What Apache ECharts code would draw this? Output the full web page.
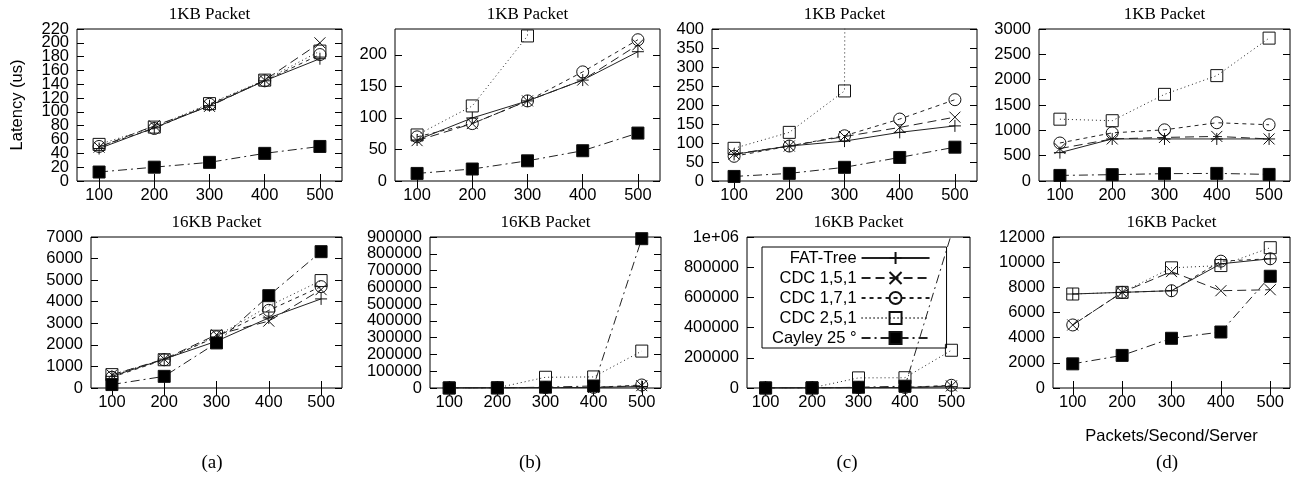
<!DOCTYPE html>
<html><head><meta charset="utf-8">
<script src="https://cdn.jsdelivr.net/npm/echarts@6/dist/echarts.min.js"></script>
<style>html,body{margin:0;padding:0;background:#fff}#c{width:1300px;height:479px}</style>
</head><body><div id="c"></div>
<script>
// ---------- data ----------
const xValues = [100, 200, 300, 400, 500];
const seriesNames = ['FAT-Tree', 'CDC 1,5,1', 'CDC 1,7,1', 'CDC 2,5,1', 'Cayley 25 °'];
const panelTitles = ['1KB Packet', '1KB Packet', '1KB Packet', '1KB Packet',
                     '16KB Packet', '16KB Packet', '16KB Packet', '16KB Packet'];
const panelLetters = ['(a)', '(b)', '(c)', '(d)'];
const yLabelName = 'Latency (us)';
const xLabelName = 'Packets/Second/Server';

// rows follow seriesNames order
const a1KB = [
  [47, 77, 109, 145, 177],
  [49, 80, 108, 146, 200],
  [50, 76, 111, 145, 183],
  [53, 78, 112, 146, 188],
  [13, 20, 27, 40, 50]
];
const b1KB = [
  [65, 100, 127, 160, 205],
  [64, 91, 127, 160, 216],
  [70, 91, 127, 173, 224],
  [73, 119, 230, 20000, 40000],
  [12, 19, 32, 48, 76]
];
const c1KB = [
  [70, 92, 105, 128, 145],
  [71, 92, 117, 141, 168],
  [65, 92, 119, 163, 214],
  [86, 128, 237, 30000, 60000],
  [12, 20, 36, 62, 89]
];
const d1KB = [
  [560, 830, 830, 830, 830],
  [640, 830, 860, 880, 830],
  [750, 950, 1010, 1150, 1110],
  [1220, 1190, 1710, 2080, 2820],
  [110, 125, 145, 150, 130]
];
const a16KB = [
  [540, 1340, 2170, 3250, 4130],
  [610, 1340, 2470, 3100, 4560],
  [500, 1310, 2370, 3600, 4700],
  [620, 1310, 2400, 3800, 4980],
  [160, 540, 2090, 4280, 6320]
];
const b16KB = [
  [560, 1300, 2200, 3300, 9000],
  [600, 1300, 2400, 3100, 14000],
  [500, 1300, 2400, 3600, 18000],
  [600, 1300, 64000, 66000, 220000],
  [150, 550, 5000, 12000, 890000]
];
const c16KB = [
  [560, 1300, 2200, 3300, 9000],
  [600, 1300, 2400, 3100, 14000],
  [500, 1300, 2400, 3600, 18000],
  [600, 1300, 67000, 68000, 250000],
  [150, 550, 5000, 12000, 1020000]
];
const d16KB = [
  [7470, 7600, 7730, 9870, 10270],
  [5010, 7600, 9250, 7730, 7810],
  [5010, 7600, 7730, 10080, 10270],
  [7470, 7600, 9550, 9730, 11150],
  [1920, 2590, 3950, 4450, 8880]
];
const panelData = [a1KB, b1KB, c1KB, d1KB, a16KB, b16KB, c16KB, d16KB];
const yMax  = [220, 241, 400, 3000, 7000, 900000, 1000000, 12000];
const yStep = [20, 50, 50, 500, 1000, 100000, 200000, 2000];
const yTickLabels = [
  [0, 20, 40, 60, 80, 100, 120, 140, 160, 180, 200, 220],
  [0, 50, 100, 150, 200],
  [0, 50, 100, 150, 200, 250, 300, 350, 400],
  [0, 500, 1000, 1500, 2000, 2500, 3000],
  [0, 1000, 2000, 3000, 4000, 5000, 6000, 7000],
  [0, 100000, 200000, 300000, 400000, 500000, 600000, 700000, 800000, 900000],
  [0, 200000, 400000, 600000, 800000, 1000000],
  [0, 2000, 4000, 6000, 8000, 10000, 12000]
];

// ---------- layout / style ----------
const gridRects = [
  [77, 29, 265, 152], [395, 29, 265, 152], [712, 29, 265, 152], [1039, 29, 251, 152],
  [91, 237, 251, 151], [430, 237, 231, 151], [747, 237, 223, 151], [1053, 237, 237, 151]
];
const SANS = 'Liberation Sans';
const SERIF = 'Liberation Serif';
const INK = '#000';
const CLEAR = 'rgba(0,0,0,0)';
const seriesStyles = [
  {symbol: 'path://M5,0L5,10M0,5L10,5', size: 12, dash: 'solid', fill: CLEAR},
  {symbol: 'path://M0,0L10,10M0,10L10,0', size: 11, dash: [9, 5], fill: CLEAR},
  {symbol: 'circle', size: 12, dash: [4, 4], fill: CLEAR},
  {symbol: 'rect', size: 12, dash: [1, 3], fill: CLEAR},
  {symbol: 'rect', size: 12, dash: [9, 4, 2, 4], fill: '#000'}
];

const grids = [], xAxes = [], yAxes = [], series = [], graphics = [];
const tickCommon = {inside: true, length: 7, lineStyle: {color: INK, width: 1}};

for (let i = 0; i < 8; i++) {
  const [l, t, w, h] = gridRects[i];
  grids.push({left: l, top: t, width: w, height: h, show: true, borderColor: INK, borderWidth: 1,
              backgroundColor: 'transparent'});
}
// main bottom x axes (0..7)
for (let i = 0; i < 8; i++) {
  const ax = {
    type: 'value', gridIndex: i, min: 60, max: 540, position: 'bottom',
    axisLine: {show: false}, splitLine: {show: false},
    axisTick: Object.assign({customValues: xValues}, tickCommon),
    axisLabel: {customValues: xValues, fontSize: 16.5, fontFamily: SANS, color: INK, margin: 6}
  };
  if (i === 7) {
    ax.name = xLabelName; ax.nameLocation = 'middle'; ax.nameGap = 40;
    ax.nameTextStyle = {fontSize: 16.5, fontFamily: SANS, color: INK};
  }
  xAxes.push(ax);
}
// mirror top x axes (8..15) carrying the panel titles
for (let i = 0; i < 8; i++) {
  xAxes.push({
    type: 'value', gridIndex: i, min: 60, max: 540, position: 'top',
    axisLine: {show: false}, splitLine: {show: false},
    axisTick: Object.assign({customValues: xValues}, tickCommon),
    axisLabel: {show: false},
    name: panelTitles[i], nameLocation: 'middle', nameGap: 6,
    nameTextStyle: {fontSize: 17, fontFamily: SERIF, color: INK}
  });
}
function fmtY(v) {
  return v >= 1000000 ? (v / 1000000) + 'e+06' : String(v);
}
// main left y axes (0..7); their labels are placed below with the axis' own scale
for (let i = 0; i < 8; i++) {
  const ax = {
    type: 'value', gridIndex: i, min: 0, max: yMax[i], interval: yStep[i], position: 'left',
    axisLine: {show: false}, splitLine: {show: false},
    axisTick: Object.assign({customValues: yTickLabels[i]}, tickCommon),
    axisLabel: {show: false}
  };
  if (i === 0) {
    ax.name = yLabelName; ax.nameLocation = 'middle'; ax.nameGap = 51; ax.nameMoveOverlap = false;
    ax.nameTextStyle = {fontSize: 16.5, fontFamily: SANS, color: INK};
  }
  yAxes.push(ax);
}
// mirror right y axes (8..15)
for (let i = 0; i < 8; i++) {
  yAxes.push({
    type: 'value', gridIndex: i, min: 0, max: yMax[i], interval: yStep[i], position: 'right',
    axisLine: {show: false}, splitLine: {show: false},
    axisTick: Object.assign({customValues: yTickLabels[i]}, tickCommon), axisLabel: {show: false}
  });
}
// series
for (let i = 0; i < 8; i++) {
  panelData[i].forEach((vals, s) => {
    const st = seriesStyles[s];
    series.push({
      type: 'line', name: seriesNames[s], xAxisIndex: i, yAxisIndex: i,
      data: xValues.map((x, j) => [x, vals[j]]),
      symbol: st.symbol, symbolSize: st.size, showAllSymbol: true, clip: true,
      animation: false,
      lineStyle: {color: '#222', width: 1, type: st.dash},
      itemStyle: {color: st.fill, borderColor: '#111', borderWidth: 1},
      emphasis: {disabled: true}
    });
  });
}
// panel letters
const letterX = [212, 530, 847, 1167];
panelLetters.forEach((txt, k) => {
  graphics.push({type: 'text', x: letterX[k], y: 463,
    style: {text: txt, fontSize: 19, fontFamily: SERIF, fill: INK, align: 'center', verticalAlign: 'middle'}});
});

const chart = echarts.init(document.getElementById('c'), null, {renderer: 'canvas'});
chart.setOption({
  animation: false,
  backgroundColor: '#fff',
  grid: grids, xAxis: xAxes, yAxis: yAxes, series: series,
  legend: {
    data: seriesNames, orient: 'vertical', align: 'right', left: 762, top: 247,
    itemWidth: 68, itemHeight: 15, itemGap: 2, selectedMode: false,
    padding: [2, 16, 1, 10], borderColor: INK, borderWidth: 1, backgroundColor: 'transparent',
    textStyle: {fontSize: 16.5, fontFamily: SANS, color: INK, lineHeight: 18}
  },
  graphic: graphics
});
// y tick labels, positioned through each y axis' scale (ECharts v6 would thin the dense ones)
const yLabelTexts = [];
for (let i = 0; i < 8; i++) {
  const left = gridRects[i][0];
  yTickLabels[i].forEach(v => {
    const py = chart.convertToPixel({yAxisIndex: i}, v);
    yLabelTexts.push({type: 'text', x: left - 8, y: py,
      style: {text: fmtY(v), fontSize: 16.5, fontFamily: SANS, fill: INK, align: 'right', verticalAlign: 'middle'}});
  });
}
chart.setOption({graphic: graphics.concat(yLabelTexts)});
</script></body></html>
